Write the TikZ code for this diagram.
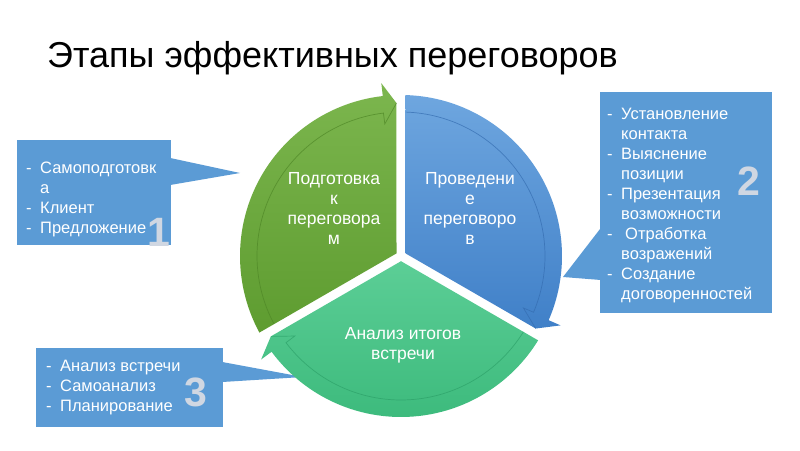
\documentclass[tikz,border=0pt]{standalone}
\usepackage{fontspec}
\setmainfont{Liberation Sans}
\usetikzlibrary{calc}
\definecolor{boxblue}{RGB}{91,155,213}
\definecolor{numgray}{RGB}{208,215,226}
\definecolor{gtop}{RGB}{124,182,78}
\definecolor{gbot}{RGB}{94,156,48}
\definecolor{gline}{RGB}{78,134,38}
\definecolor{btop}{RGB}{110,166,223}
\definecolor{bbot}{RGB}{64,128,200}
\definecolor{bline}{RGB}{52,108,176}
\definecolor{ttop}{RGB}{92,206,150}
\definecolor{tbot}{RGB}{60,186,124}
\definecolor{tline}{RGB}{44,160,104}
\newcommand\dashitem{\makebox[14pt][l]{-}}
\begin{document}
\begin{tikzpicture}[x=1pt,y=1pt,
  wtext/.style={text=white, font=\fontsize{17.5}{20}\selectfont, align=center, inner sep=0pt},
  btext/.style={text=white, font=\fontsize{16.5}{20}\selectfont, align=left, anchor=north west, inner sep=0pt},
  numtxt/.style={text=numgray, font=\bfseries\fontsize{41}{41}\selectfont, inner sep=0pt},
  callout/.style={fill=boxblue, draw=none, inner sep=0pt}]
\useasboundingbox (0,0) rectangle (800,450);
\fill[white] (0,0) rectangle (800,450);
\coordinate (C) at (401,194);

% title
\node[anchor=base west, inner sep=0pt, font=\fontsize{36}{40}\selectfont] (title) at (47,382) {Этапы эффективных переговоров};

% callout boxes
\node[callout, minimum width=154pt, minimum height=105pt] (box1) at (94,257.5) {};
\coordinate (tip1) at (240,277);
\fill[boxblue] ([xshift=-1pt,yshift=34.5pt]box1.east) -- (tip1) -- ([xshift=-1pt,yshift=7.5pt]box1.east) -- cycle;

\node[callout, minimum width=172pt, minimum height=221pt] (box2) at (686,247.5) {};
\coordinate (tip2) at (563,173);
\fill[boxblue] ([xshift=1pt,yshift=-25.5pt]box2.west) -- (tip2) -- ([xshift=1pt,yshift=-77.5pt]box2.west) -- cycle;

\node[callout, minimum width=187pt, minimum height=79pt] (box3) at (129.5,62.5) {};
\coordinate (tip3) at (303,73);
\fill[boxblue] ([xshift=-1pt,yshift=25.5pt]box3.east) -- (tip3) -- ([xshift=-1pt,yshift=5.5pt]box3.east) -- cycle;

% box texts
\node[btext] (t1) at (26,288.5) {\dashitem Самоподготовк\\\hspace*{14pt}а\\\dashitem Клиент\\\dashitem Предложение};
\node[btext] (t2) at (607,342.5) {\dashitem Установление\\\hspace*{14pt}контакта\\\dashitem Выяснение\\\hspace*{14pt}позиции\\\dashitem Презентация\\\hspace*{14pt}возможности\\\dashitem\hspace{4pt}Отработка\\\hspace*{14pt}возражений\\\dashitem Создание\\\hspace*{14pt}договоренностей};
\node[btext] (t3) at (46,90.5) {\dashitem Анализ встречи\\\dashitem Самоанализ\\\dashitem Планирование};

\node[numtxt] (n1) at (159,218) {1};
\node[numtxt] (n2) at (749,269) {2};
\node[numtxt] (n3) at (196,58) {3};

% wedges
\foreach \r/\ct/\cb/\lc in {0/gtop/gbot/gline, -120/btop/bbot/bline, 120/ttop/tbot/tline} {
  \shade[top color=\ct, bottom color=\cb]
    ($(C)+({150+\r}:5.2pt)$) -- ($(C)+({91.7+\r}:153pt)$) -- ($(C)+({96.5+\r}:174pt)$) -- ($(C)+({96.5+\r}:161pt)$)
    arc[start angle={96.5+\r}, end angle={208.4+\r}, radius=161pt] -- cycle;
  \draw[\lc, line width=0.7pt, opacity=0.7] ($(C)+({91.7+\r}:153pt)$) -- ($(C)+({97+\r}:133pt)$) -- ($(C)+({97+\r}:144pt)$)
    arc[start angle={97+\r}, end angle={208.2+\r}, radius=144pt];
}

% wedge texts
\node[wtext] (w1) at (334,242) {Подготовка\\к\\переговора\\м};
\node[wtext] (w2) at (470,242) {Проведени\\е\\переговоро\\в};
\node[wtext] (w3) at (403,105) {Анализ итогов\\встречи};
\end{tikzpicture}
\end{document}
